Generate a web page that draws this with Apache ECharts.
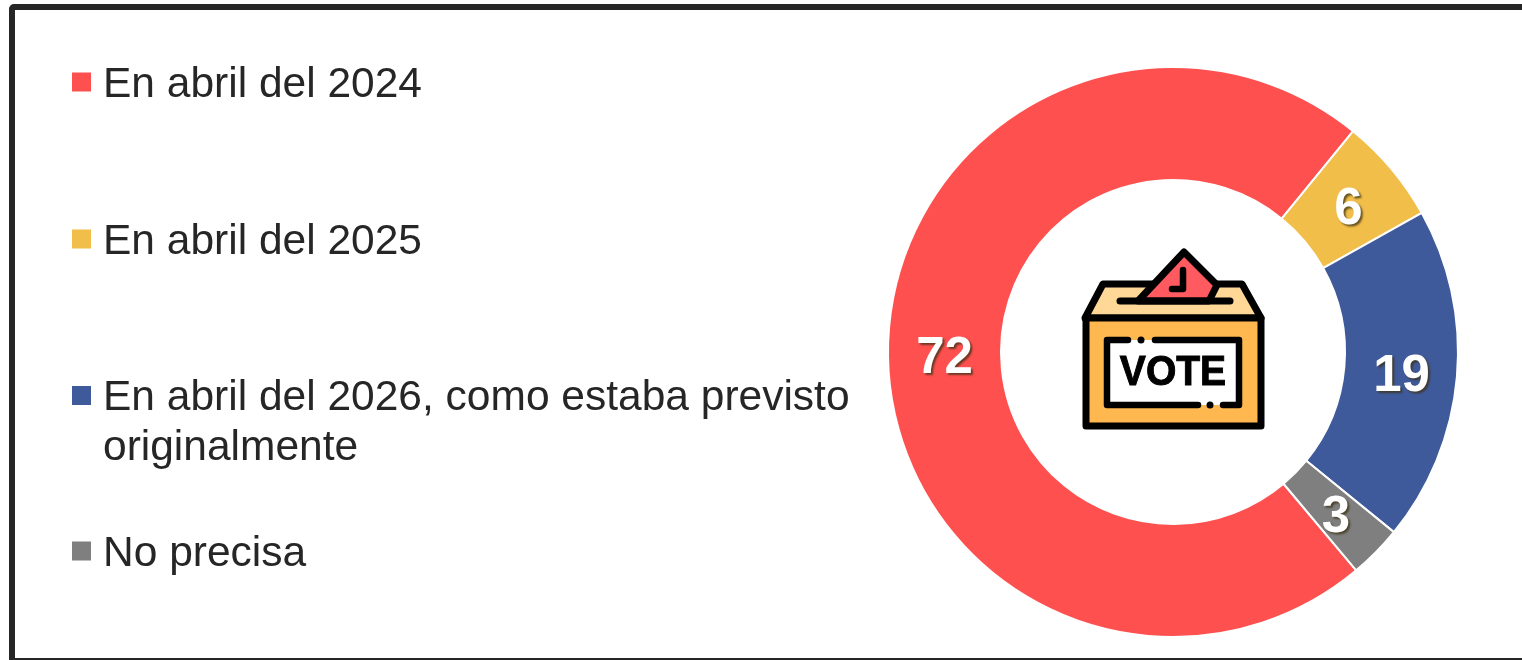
<!DOCTYPE html>
<html><head><meta charset="utf-8">
<style>html,body{margin:0;padding:0;background:#fff}#c{width:1522px;height:660px}</style>
<script src="https://cdn.jsdelivr.net/npm/echarts@6/dist/echarts.min.js"></script>
</head><body><div id="c"></div>
<script>
const categories = ['En abril del 2024','En abril del 2025','En abril del 2026, como estaba previsto\noriginalmente','No precisa'];
const values = [72,6,19,3];
const colors = ['#FF5050','#F2BE4A','#3F5A9A','#7F7F7F'];
const legendTops = [73,230,386,542];

const chart = echarts.init(document.getElementById('c'));
const ink = '#000';
const legendText = {fontFamily:'Liberation Sans',fontSize:42.5,color:'#262626',lineHeight:50,padding:[0,0,0,7]};
const legends = categories.map((name,i)=>({
  data:[name],left:72,top:legendTops[i]-13,orient:'vertical',
  selectedMode:false,itemWidth:19,itemHeight:i===2?74:25,
  icon:i===2?'path://M0 0H19V19H0Z M0 74L0 74Z':'path://M0 0H19V19H0Z M0 25L0 25Z',
  itemStyle:{borderWidth:0},
  textStyle:legendText,padding:0
}));
const labelShift = [[3,5],[-2,7],[-2,5],[-2,3]];
const g = (type,shape,style,extra)=>Object.assign({type,shape,style,silent:true},extra||{});
chart.setOption({
  animation:false,
  backgroundColor:'#fff',
  legend:legends,
  color:colors,
  series:[{
    type:'pie',center:[1173,352],radius:[172,285],startAngle:-50,clockwise:true,
    avoidLabelOverlap:false,silent:true,
    itemStyle:{borderColor:'#fff',borderWidth:2},
    label:{show:true,position:'inside',formatter:'{c}',fontFamily:'Liberation Sans',fontWeight:'bold',fontSize:51,color:'#fff',
      textShadowColor:'rgba(60,50,20,0.75)',textShadowBlur:2,textShadowOffsetX:2,textShadowOffsetY:2},
    labelLayout:p=>({dx:labelShift[p.dataIndex][0],dy:labelShift[p.dataIndex][1]}),
    labelLine:{show:false},
    data:categories.map((name,i)=>({name,value:values[i]}))
  }],
  graphic:[
    g('rect',{x:12,y:7,width:1600,height:654,r:2},{fill:'none',stroke:'#262626',lineWidth:6,lineJoin:'round'}),
    g('polygon',{points:[[1103,284],[1242,284],[1261,318],[1085,318]]},{fill:'#FFD796',stroke:ink,lineWidth:7,lineJoin:'round'}),
    g('polygon',{points:[[1184,252],[1217,285],[1209,301],[1138,301]]},{fill:'#FF5A5F',stroke:ink,lineWidth:7,lineJoin:'round'}),
    g('polyline',{points:[[1120,301],[1230,301]]},{stroke:ink,lineWidth:7,lineCap:'round',fill:'none'}),
    g('polyline',{points:[[1183,270],[1183,289],[1172,289]]},{stroke:ink,lineWidth:6.5,lineCap:'round',lineJoin:'round',fill:'none'}),
    g('rect',{x:1086,y:318,width:175,height:108},{fill:'#FFB74F',stroke:ink,lineWidth:7,lineJoin:'round'}),
    g('rect',{x:1107,y:340,width:132,height:65},{fill:'#fff'}),
    g('polyline',{points:[[1155,340],[1239,340],[1239,405],[1223,405]]},{stroke:ink,lineWidth:6.5,lineCap:'round',lineJoin:'round',fill:'none'}),
    g('polyline',{points:[[1198,405],[1107,405],[1107,340],[1128,340]]},{stroke:ink,lineWidth:6.5,lineCap:'round',lineJoin:'round',fill:'none'}),
    g('circle',{cx:1141,cy:340,r:3.5},{fill:ink}),
    g('circle',{cx:1210,cy:405,r:3.5},{fill:ink}),
    {type:'text',silent:true,x:1173,y:373,scaleX:0.93,style:{text:'VOTE',fill:ink,stroke:ink,lineWidth:1,lineJoin:'round',font:'bold 42px "Liberation Sans"',textAlign:'center',textVerticalAlign:'middle'}}
  ]
});
</script></body></html>
